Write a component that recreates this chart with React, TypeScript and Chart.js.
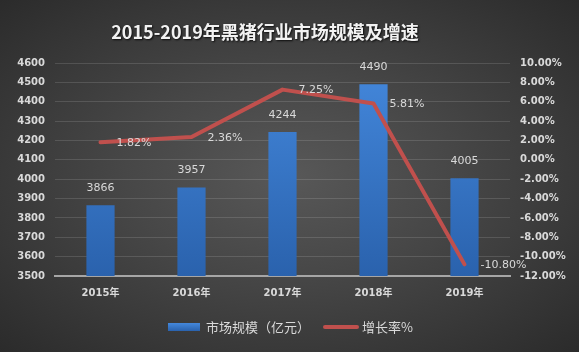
import React, { useEffect, useRef } from 'react';
import { Chart, registerables } from 'chart.js';

Chart.register(...registerables);

const TITLE = '2015-2019年黑猪行业市场规模及增速';
const categories = ['2015年', '2016年', '2017年', '2018年', '2019年'];
const marketSize = [3866, 3957, 4244, 4490, 4005];
const growthRate = [1.82, 2.36, 7.25, 5.81, -10.8];
const seriesNames = ['市场规模（亿元）', '增长率%'];
const leftTicks = { min: 3500, max: 4600, step: 100 };
const rightTicks = { min: -12, max: 10, step: 2 };

const FONT = '"DejaVu Sans", "Noto Sans CJK SC", sans-serif';
const CJK = '"Noto Sans CJK SC", "DejaVu Sans", sans-serif';
const TEXT = '#d9d9d9';
const RED = '#c0504d';

export default function App() {
  const ref = useRef<HTMLCanvasElement | null>(null);

  useEffect(() => {
    document.body.style.margin = '0';
    document.body.style.background = '#ffffff';
    const canvas = ref.current;
    if (!canvas) return;

    const overlay = {
      id: 'overlay',
      afterDatasetsDraw(chart: any) {
        const ctx = chart.ctx;
        ctx.save();
        ctx.fillStyle = TEXT;
        ctx.font = `11px ${FONT}`;
        ctx.textBaseline = 'middle';
        const barMeta = chart.getDatasetMeta(0);
        barMeta.data.forEach((el: any, i: number) => {
          ctx.textAlign = 'center';
          ctx.fillText(String(marketSize[i]), el.x, el.y - 17);
        });
        const lineMeta = chart.getDatasetMeta(1);
        lineMeta.data.forEach((el: any, i: number) => {
          ctx.textAlign = 'left';
          ctx.fillText(growthRate[i].toFixed(2) + '%', el.x + 16, el.y + 1);
        });
        ctx.restore();
      },
      afterDraw(chart: any) {
        const ctx = chart.ctx;
        ctx.save();
        // title
        ctx.font = `bold 18px ${CJK}`;
        ctx.textAlign = 'center';
        ctx.textBaseline = 'middle';
        ctx.shadowColor = 'rgba(0,0,0,0.8)';
        ctx.shadowOffsetX = 1;
        ctx.shadowOffsetY = 1;
        ctx.shadowBlur = 2;
        ctx.fillStyle = '#f2f2f2';
        ctx.fillText(TITLE, 265, 32);
        ctx.shadowColor = 'transparent';
        // legend
        const ly = 327;
        const g = ctx.createLinearGradient(0, ly - 4, 0, ly + 4);
        g.addColorStop(0, '#4488dc');
        g.addColorStop(1, '#2a62ad');
        ctx.fillStyle = g;
        ctx.fillRect(168, ly - 4, 32, 8);
        ctx.font = `13px ${CJK}`;
        ctx.textAlign = 'left';
        ctx.fillStyle = TEXT;
        ctx.fillText(seriesNames[0], 206, ly);
        ctx.strokeStyle = RED;
        ctx.lineWidth = 4;
        ctx.lineCap = 'round';
        ctx.beginPath();
        ctx.moveTo(325, ly);
        ctx.lineTo(357, ly);
        ctx.stroke();
        ctx.fillText(seriesNames[1], 362, ly);
        ctx.restore();
      },
    };

    const chart = new Chart(canvas, {
      type: 'bar',
      data: {
        labels: categories,
        datasets: [
          {
            type: 'bar',
            label: seriesNames[0],
            data: marketSize,
            yAxisID: 'y',
            order: 2,
            categoryPercentage: 1,
            barPercentage: 0.31,
            backgroundColor: (c: any) => {
              const area = c.chart.chartArea;
              if (!area) return '#3a78c9';
              const gr = c.chart.ctx.createLinearGradient(0, area.top, 0, area.bottom);
              gr.addColorStop(0, '#4488dc');
              gr.addColorStop(1, '#2a62ad');
              return gr;
            },
          },
          {
            type: 'line',
            label: seriesNames[1],
            data: growthRate,
            yAxisID: 'y1',
            order: 1,
            borderColor: RED,
            backgroundColor: RED,
            borderWidth: 4,
            pointRadius: 0,
            tension: 0,
            borderCapStyle: 'round',
            borderJoinStyle: 'round',
          },
        ],
      } as any,
      options: {
        responsive: false,
        animation: false,
        layout: { padding: { top: 63, bottom: 46, left: 0, right: 0 } },
        plugins: {
          legend: { display: false },
          title: { display: false },
          tooltip: { enabled: false },
        },
        scales: {
          x: {
            offset: true,
            grid: { display: false, drawTicks: false },
            border: { display: true, color: '#a6a6a6', width: 2 },
            ticks: {
              color: TEXT,
              padding: 11,
              font: { family: FONT, size: 10, weight: 'bold' },
            },
            afterFit: (s: any) => {
              s.height = 30;
            },
          },
          y: {
            position: 'left',
            min: leftTicks.min,
            max: leftTicks.max,
            ticks: {
              stepSize: leftTicks.step,
              color: TEXT,
              padding: 10,
              font: { family: FONT, size: 10, weight: 'bold' },
              callback: (v: any) => String(v),
            },
            grid: { color: 'rgba(255,255,255,0.13)', drawTicks: false, lineWidth: 1 },
            border: { display: false },
            afterFit: (s: any) => {
              s.width = 55;
            },
          },
          y1: {
            position: 'right',
            min: rightTicks.min,
            max: rightTicks.max,
            ticks: {
              stepSize: rightTicks.step,
              color: TEXT,
              padding: 10,
              font: { family: FONT, size: 10, weight: 'bold' },
              callback: (v: any) => Number(v).toFixed(2) + '%',
            },
            grid: { display: false, drawTicks: false },
            border: { display: false },
            afterFit: (s: any) => {
              s.width = 69;
            },
          },
        },
      } as any,
      plugins: [overlay],
    });

    return () => chart.destroy();
  }, []);

  return (
    <div style={{ width: 583, height: 358, background: '#ffffff' }}>
      <canvas
        ref={ref}
        width={579}
        height={352}
        style={{
          display: 'block',
          width: 579,
          height: 352,
          background:
            'radial-gradient(ellipse farthest-corner at 50% 50%, #585858 0%, #474747 40%, #2b2b2b 100%)',
        }}
      />
    </div>
  );
}
